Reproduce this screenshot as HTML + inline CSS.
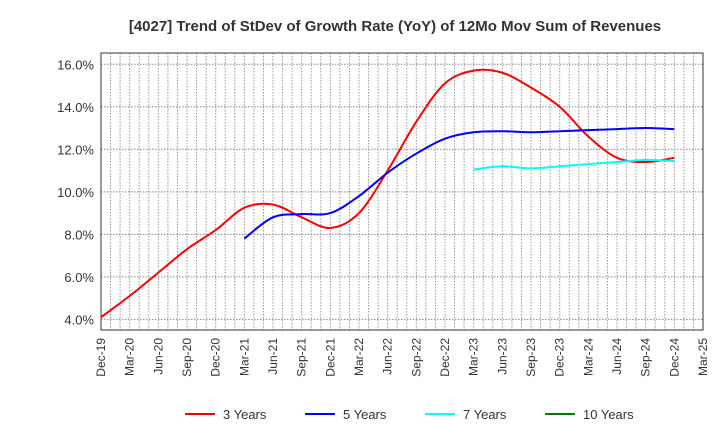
<!DOCTYPE html>
<html><head><meta charset="utf-8"><style>
body{margin:0;background:#fff;font-family:"Liberation Sans",sans-serif}
</style></head><body>
<svg id="c" width="720" height="440" xmlns="http://www.w3.org/2000/svg"></svg>
<script>
const categories=["Dec-19","Mar-20","Jun-20","Sep-20","Dec-20","Mar-21","Jun-21","Sep-21","Dec-21","Mar-22","Jun-22","Sep-22","Dec-22","Mar-23","Jun-23","Sep-23","Dec-23","Mar-24","Jun-24","Sep-24","Dec-24","Mar-25"];
const yTicks=[4,6,8,10,12,14,16];
const s3=[4.1,5.1,6.2,7.3,8.2,9.25,9.4,8.8,8.3,9.0,11.0,13.3,15.1,15.7,15.6,14.9,14.0,12.6,11.6,11.4,11.6];
const s5=[null,null,null,null,null,7.8,8.8,8.95,9.0,9.8,10.9,11.8,12.5,12.8,12.85,12.8,12.85,12.9,12.95,13.0,12.95];
const s7=[null,null,null,null,null,null,null,null,null,null,null,null,null,11.05,11.2,11.1,11.2,11.3,11.4,11.5,11.45];
const s10=[];
const series=[{n:"3 Years",d:s3,c:"#ff0000"},{n:"5 Years",d:s5,c:"#0000ff"},{n:"7 Years",d:s7,c:"#00ffff"},{n:"10 Years",d:s10,c:"#008000"}];
const svg=document.getElementById('c');const NS="http://www.w3.org/2000/svg";
const L=101,R=703,T=53,B=330,ymin=3.5,ymax=16.53;
const x=i=>L+i*(R-L)/(categories.length-1);
const y=v=>B-(v-ymin)/(ymax-ymin)*(B-T);
function mk(t,a,p){const e=document.createElementNS(NS,t);for(const k in a)e.setAttribute(k,a[k]);(p||svg).appendChild(e);return e;}
const g=mk('g',{});


for(let m=1;m<63;m++){const xx=L+m*(R-L)/63;mk('line',{x1:xx,x2:xx,y1:T,y2:B,stroke:"#999","stroke-dasharray":"1.5,1.5","stroke-width":1},g);}
yTicks.forEach(v=>{mk('line',{x1:L,x2:R,y1:y(v),y2:y(v),stroke:"#888","stroke-dasharray":"1.5,1.5","stroke-width":1},g);
const t=mk('text',{x:L-7,y:y(v)+5,"text-anchor":"end","font-size":13,fill:"#333"});t.textContent=v.toFixed(1)+"%";

});
const fr=mk('rect',{x:L,y:T,width:R-L,height:B-T,fill:"none",stroke:"#333","stroke-width":1});


categories.forEach((c,i)=>{const t=mk('text',{transform:`translate(${x(i)+4},${B+8}) rotate(-90)`,"text-anchor":"end","font-size":12,fill:"#333"});t.textContent=c;

});
function path(pts){let d=`M${pts[0][0]},${pts[0][1]}`;for(let i=0;i<pts.length-1;i++){const p0=pts[i-1]||pts[i],p1=pts[i],p2=pts[i+1],p3=pts[i+2]||p2;
d+=`C${p1[0]+(p2[0]-p0[0])/6},${p1[1]+(p2[1]-p0[1])/6} ${p2[0]-(p3[0]-p1[0])/6},${p2[1]-(p3[1]-p1[1])/6} ${p2[0]},${p2[1]}`;}return d;}
series.forEach(s=>{const pts=[];s.d.forEach((v,i)=>{if(v!=null)pts.push([x(i),y(v)]);});if(pts.length<2)return;
const p=mk('path',{d:path(pts),fill:"none",stroke:s.c,"stroke-width":2});

});
const tt=mk('text',{x:395,y:31,"text-anchor":"middle","font-size":15,"font-weight":"bold",fill:"#333"});tt.textContent="[4027]  Trend of StDev of Growth Rate (YoY) of 12Mo Mov Sum of Revenues";


const lx=[185,305,425,545];
series.forEach((s,i)=>{const lg=mk('g',{});


mk('line',{x1:lx[i],x2:lx[i]+30,y1:414,y2:414,stroke:s.c,"stroke-width":2},lg);
const t=mk('text',{x:lx[i]+38,y:419,"font-size":13,fill:"#333"},lg);t.textContent=s.n;});
</script>
</body></html>
